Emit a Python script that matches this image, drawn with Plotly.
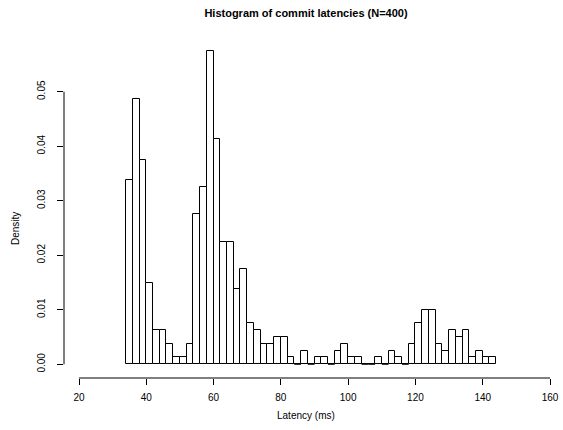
import plotly.graph_objects as go

# Histogram data (2 ms bins, 34..144 ms), N=400
bin_starts = list(range(34, 144, 2))
counts = [27, 39, 30, 12, 5, 5, 3, 1, 1, 3,
          22, 26, 46, 33, 18, 18, 11, 14, 6, 5,
          3, 3, 4, 4, 1, 0, 2, 0, 1, 1,
          0, 2, 3, 1, 1, 0, 0, 1, 0, 2,
          1, 0, 3, 6, 8, 8, 3, 2, 5, 4,
          5, 1, 2, 1, 1]
N = 400
bin_width = 2
density = [c / (N * bin_width) for c in counts]
x_ticks = [20, 40, 60, 80, 100, 120, 140, 160]
y_ticks = [0.00, 0.01, 0.02, 0.03, 0.04, 0.05]

centers = [s + bin_width / 2 for s in bin_starts]

fig = go.Figure()
fig.add_trace(go.Bar(
    x=centers, y=density, width=bin_width,
    marker=dict(color="white", line=dict(color="black", width=1)),
    hoverinfo="x+y", showlegend=False,
))

# zero-height bins are drawn by R as a flat line on the baseline
zx, zy = [], []
for s, c in zip(bin_starts, counts):
    if c == 0:
        zx += [s, s + bin_width, None]
        zy += [0, 0, None]
fig.add_trace(go.Scatter(x=zx, y=zy, mode="lines",
                         line=dict(color="black", width=1),
                         hoverinfo="skip", showlegend=False))

font_family = "Liberation Sans, Arial, Helvetica, sans-serif"

fig.update_layout(
    width=563, height=430,
    margin=dict(l=64, r=0, t=39, b=52, pad=0, autoexpand=False),
    paper_bgcolor="white", plot_bgcolor="white",
    bargap=0,
    font=dict(family=font_family, size=10, color="black"),
    title=dict(text="<b>Histogram of commit latencies (N=400)</b>",
               x=0.485, xref="paper", xanchor="center",
               y=1 - 13 / 430, yref="container", yanchor="middle",
               font=dict(size=11, family=font_family, color="black")),
    xaxis=dict(range=[15.541, 163.86], tickvals=x_ticks,
               ticktext=[str(v) for v in x_ticks],
               ticks="outside", ticklen=6, tickcolor="black", tickwidth=1,
               showline=False, showgrid=False, zeroline=False,
               ticklabelstandoff=4, automargin=False),
    yaxis=dict(range=[-0.002513, 0.05967], tickvals=y_ticks,
               ticktext=["%.2f" % v for v in y_ticks],
               tickangle=-90,
               ticks="outside", ticklen=6, tickcolor="black", tickwidth=1,
               showline=False, showgrid=False, zeroline=False,
               ticklabelstandoff=8, automargin=False),
    shapes=[
        dict(type="line", xref="x", yref="paper", x0=x_ticks[0], x1=x_ticks[-1],
             y0=0, y1=0, line=dict(color="black", width=1)),
        dict(type="line", xref="paper", yref="y", x0=0, x1=0,
             y0=y_ticks[0], y1=y_ticks[-1], line=dict(color="black", width=1)),
    ],
    annotations=[
        dict(text="Latency (ms)", xref="paper", yref="paper",
             x=(306 - 64) / 499, y=-(415 - 378) / 339,
             xanchor="center", yanchor="middle", showarrow=False,
             font=dict(size=10)),
        dict(text="Density", xref="paper", yref="paper",
             x=-(64 - 15) / 499, y=(378 - 229) / 339, textangle=-90,
             xanchor="center", yanchor="middle", showarrow=False,
             font=dict(size=10)),
    ],
)

fig.write_html("out.html", config={"displayModeBar": False},
               post_script="document.body.style.margin='0px';")
